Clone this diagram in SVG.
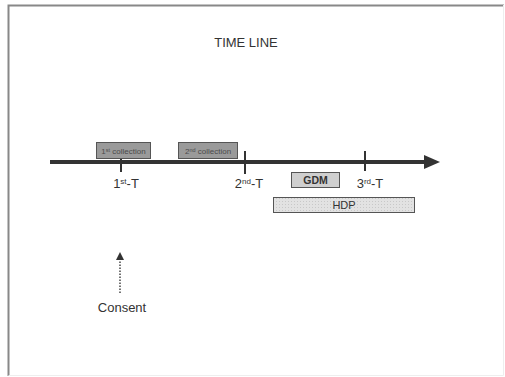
<svg xmlns="http://www.w3.org/2000/svg" width="505" height="377" viewBox="0 0 505 377">
<defs>
<style>
text{font-family:"Liberation Sans",Arial,sans-serif;fill:#333}
.lbl{font-size:13px}
.small{font-size:8px;fill:#4a4a4a}
.box{stroke:#555;stroke-width:1}
.tick{stroke:#333;stroke-width:2}
</style>
<pattern id="dots" width="3" height="3" patternUnits="userSpaceOnUse">
<rect width="3" height="3" fill="#e2e2e2"/>
<rect width="1" height="1" fill="#c8c8c8"/>
</pattern>
<marker id="ah" markerWidth="8" markerHeight="8" refX="4" refY="4" orient="auto" markerUnits="userSpaceOnUse">
<path d="M0,0 L8,4 L0,8 z" fill="#333"/>
</marker>
</defs>
<rect x="0" y="0" width="505" height="377" fill="#fff"/>
<path d="M8.5,376 V5.5 H504" fill="none" stroke="#888" stroke-width="2"/>
<path d="M8.5,375.5 H503.5 V5" fill="none" stroke="#eee" stroke-width="1"/>
<g id="title"><text x="246" y="47" class="lbl" text-anchor="middle">TIME LINE</text></g>
<g id="connectors">
<line x1="50" y1="162" x2="426" y2="162" stroke="#333" stroke-width="4"/>
<path d="M424,155 L440,162 L424,169 z" fill="#333"/>
<line class="tick" x1="121" y1="156" x2="121" y2="172"/>
<line class="tick" x1="245" y1="151" x2="245" y2="174"/>
<line class="tick" x1="365" y1="151" x2="365" y2="171"/>
<line x1="120" y1="293" x2="120" y2="256" stroke="#444" stroke-width="1.5" stroke-dasharray="1.5,1.5" marker-end="url(#ah)"/>
</g>
<g id="collection1">
<rect class="box" x="96.5" y="142.5" width="54" height="16" fill="#9a9a9a"/>
<text x="123.5" y="154" class="small" text-anchor="middle">1<tspan font-size="5.5" dy="-2.5">st</tspan><tspan dy="2.5"> collection</tspan></text>
</g>
<g id="collection2">
<rect class="box" x="178.5" y="142.5" width="59" height="16" fill="#9a9a9a"/>
<text x="208" y="154" class="small" text-anchor="middle">2<tspan font-size="5.5" dy="-2.5">nd</tspan><tspan dy="2.5"> collection</tspan></text>
</g>
<g id="t1"><text x="126" y="188" class="lbl" text-anchor="middle">1<tspan font-size="8" dy="-4">st</tspan><tspan dy="4">-T</tspan></text></g>
<g id="t2"><text x="249" y="188" class="lbl" text-anchor="middle">2<tspan font-size="8" dy="-4">nd</tspan><tspan dy="4">-T</tspan></text></g>
<g id="t3"><text x="370" y="188" class="lbl" text-anchor="middle">3<tspan font-size="8" dy="-4">rd</tspan><tspan dy="4">-T</tspan></text></g>
<g id="gdm">
<rect class="box" x="291.5" y="172.5" width="48" height="15" fill="#cfcfcf"/>
<text x="315.5" y="184" font-size="10.5" font-weight="bold" text-anchor="middle">GDM</text>
</g>
<g id="hdp">
<rect class="box" x="273.5" y="197.5" width="141" height="15" fill="url(#dots)"/>
<text x="344" y="209" font-size="11" text-anchor="middle">HDP</text>
</g>
<g id="consent"><text x="122" y="312" class="lbl" text-anchor="middle">Consent</text></g>
</svg>
